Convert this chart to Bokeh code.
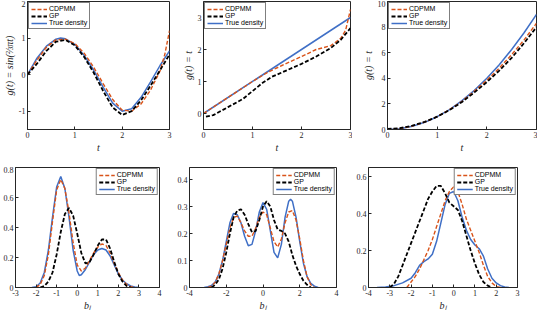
from bokeh.plotting import figure
from bokeh.layouts import column, row
from bokeh.models import FixedTicker, Range1d, Legend, LegendItem
from bokeh.embed import file_html
from bokeh.resources import INLINE

# ---------------- data ----------------
# Panel 1: g(t) = sin(2/3 pi t)
p1_t_true = [0, 0.2, 0.4, 0.6, 0.7, 0.8, 1.0, 1.2, 1.4, 1.6, 1.8, 2.0, 2.2, 2.4, 2.6, 2.8, 3.0]
p1_true = [0.0, 0.45, 0.78, 0.97, 1.0, 0.98, 0.83, 0.52, 0.12, -0.35, -0.78, -1.0, -0.93, -0.62, -0.2, 0.25, 0.65]
p1_t_cd = [0, 0.2, 0.4, 0.6, 0.8, 1.0, 1.2, 1.4, 1.6, 1.8, 2.0, 2.2, 2.4, 2.6, 2.8, 2.9, 3.0]
p1_cd = [0.0, 0.4, 0.75, 0.95, 0.97, 0.85, 0.58, 0.2, -0.25, -0.68, -0.97, -1.0, -0.8, -0.42, 0.1, 0.55, 1.2]
p1_t_gp = [0, 0.2, 0.4, 0.6, 0.8, 1.0, 1.2, 1.4, 1.6, 1.8, 2.0, 2.2, 2.4, 2.6, 2.8, 3.0]
p1_gp = [0.0, 0.3, 0.65, 0.9, 0.95, 0.8, 0.48, 0.05, -0.45, -0.9, -1.1, -1.0, -0.7, -0.3, 0.12, 0.55]

# Panel 2: g(t) = t
p2_t_true = [0, 3]
p2_true = [0, 3]
p2_t_cd = [0, 0.5, 1.0, 1.3, 1.6, 2.0, 2.3, 2.6, 2.8, 2.9, 3.0]
p2_cd = [0.0, 0.5, 1.0, 1.28, 1.5, 1.78, 2.0, 2.12, 2.35, 2.6, 3.25]
p2_t_gp = [0.05, 0.2, 0.5, 0.8, 1.0, 1.2, 1.4, 1.7, 2.0, 2.3, 2.6, 2.8, 3.0]
p2_gp = [-0.1, -0.05, 0.2, 0.45, 0.7, 0.95, 1.15, 1.35, 1.55, 1.78, 2.05, 2.3, 2.67]

# Panel 3
p3_t = [0, 0.25, 0.5, 0.75, 1.0, 1.25, 1.5, 1.75, 2.0, 2.25, 2.5, 2.75, 3.0]
p3_true = [0, 0.06, 0.25, 0.56, 1.0, 1.56, 2.25, 3.06, 4.0, 5.06, 6.25, 7.56, 9.0]
p3_cd = [0, 0.07, 0.27, 0.58, 1.0, 1.55, 2.2, 3.0, 3.85, 4.8, 5.85, 7.0, 8.3]
p3_gp = [0.05, 0.1, 0.3, 0.6, 1.0, 1.52, 2.15, 2.9, 3.7, 4.6, 5.6, 6.75, 8.0]

# Panel 4: densities of b_l
p4_b_true = [-2.2, -2.0, -1.8, -1.6, -1.4, -1.2, -1.0, -0.8, -0.6, -0.4, -0.2, 0.0, 0.1, 0.2, 0.4, 0.6,
             0.8, 1.0, 1.2, 1.4, 1.6, 1.8, 2.0, 2.2, 2.4, 2.6, 2.8, 3.0]
p4_true = [0, 0.005, 0.03, 0.1, 0.25, 0.47, 0.67, 0.74, 0.66, 0.47, 0.25, 0.11, 0.08, 0.085, 0.12, 0.17,
           0.22, 0.25, 0.26, 0.25, 0.21, 0.15, 0.09, 0.05, 0.025, 0.01, 0.004, 0]
p4_b_cd = [-2.0, -1.8, -1.6, -1.4, -1.2, -1.0, -0.8, -0.6, -0.4, -0.2, 0.0, 0.2, 0.4, 0.6, 0.8, 1.0,
           1.2, 1.4, 1.6, 1.8, 2.0, 2.2, 2.4, 2.6, 2.8]
p4_cd = [0, 0.02, 0.08, 0.22, 0.44, 0.65, 0.72, 0.66, 0.5, 0.3, 0.15, 0.11, 0.13, 0.18, 0.23, 0.27,
         0.29, 0.28, 0.23, 0.16, 0.1, 0.05, 0.02, 0.005, 0]
p4_b_gp = [-1.8, -1.6, -1.4, -1.2, -1.0, -0.8, -0.6, -0.4, -0.2, 0.0, 0.2, 0.4, 0.6, 0.8, 1.0, 1.2,
           1.4, 1.6, 1.8, 2.0, 2.2, 2.4, 2.6]
p4_gp = [0, 0.01, 0.04, 0.1, 0.22, 0.37, 0.49, 0.53, 0.48, 0.36, 0.23, 0.16, 0.17, 0.22, 0.28, 0.32,
         0.32, 0.26, 0.17, 0.09, 0.04, 0.01, 0]

# Panel 5
p5_b_true = [-3.2, -3.0, -2.8, -2.6, -2.4, -2.2, -2.0, -1.8, -1.6, -1.4, -1.2, -1.0, -0.8, -0.6, -0.4,
             -0.2, 0.0, 0.2, 0.4, 0.6, 0.8, 1.0, 1.2, 1.4, 1.5, 1.6, 1.8, 2.0, 2.2, 2.4, 2.6, 2.8, 3.0]
p5_true = [0, 0.003, 0.008, 0.02, 0.05, 0.1, 0.17, 0.24, 0.275, 0.27, 0.24, 0.19, 0.155, 0.16, 0.21,
           0.28, 0.315, 0.29, 0.21, 0.13, 0.11, 0.16, 0.26, 0.32, 0.327, 0.32, 0.26, 0.17, 0.09, 0.04,
           0.015, 0.005, 0]
p5_b_cd = [-3.0, -2.8, -2.6, -2.4, -2.2, -2.0, -1.8, -1.6, -1.4, -1.2, -1.0, -0.8, -0.6, -0.4, -0.2,
           0.0, 0.2, 0.4, 0.6, 0.8, 1.0, 1.2, 1.4, 1.6, 1.8, 2.0, 2.2, 2.4, 2.6, 2.8]
p5_cd = [0, 0.005, 0.02, 0.05, 0.1, 0.16, 0.22, 0.26, 0.265, 0.24, 0.21, 0.19, 0.19, 0.22, 0.26,
         0.28, 0.27, 0.22, 0.17, 0.15, 0.18, 0.24, 0.28, 0.285, 0.25, 0.18, 0.1, 0.04, 0.01, 0]
p5_b_gp = [-2.8, -2.6, -2.4, -2.2, -2.0, -1.8, -1.6, -1.4, -1.2, -1.0, -0.8, -0.6, -0.4, -0.2, 0.0,
           0.2, 0.4, 0.6, 0.8, 1.0, 1.2, 1.4, 1.6, 1.8, 2.0, 2.2, 2.4, 2.6]
p5_gp = [0, 0.01, 0.03, 0.07, 0.13, 0.2, 0.26, 0.285, 0.29, 0.27, 0.235, 0.205, 0.21, 0.25, 0.3,
         0.32, 0.3, 0.25, 0.215, 0.21, 0.2, 0.17, 0.12, 0.08, 0.05, 0.025, 0.01, 0]

# Panel 6
p6_b_true = [-3.6, -3.2, -2.8, -2.4, -2.0, -1.8, -1.6, -1.4, -1.2, -1.0, -0.8, -0.6, -0.4, -0.2, 0.0,
             0.2, 0.4, 0.6, 0.8, 1.0, 1.2, 1.4, 1.6, 1.8, 2.0, 2.2, 2.4, 2.6]
p6_true = [0, 0.003, 0.01, 0.025, 0.05, 0.08, 0.12, 0.14, 0.155, 0.18, 0.25, 0.35, 0.45, 0.51, 0.52,
           0.47, 0.38, 0.31, 0.26, 0.23, 0.21, 0.17, 0.1, 0.05, 0.025, 0.01, 0.003, 0]
p6_b_cd = [-2.2, -2.0, -1.8, -1.6, -1.4, -1.2, -1.0, -0.8, -0.6, -0.4, -0.2, 0.0, 0.2, 0.4, 0.6, 0.8,
           1.0, 1.2, 1.4, 1.6, 1.8, 2.0, 2.2]
p6_cd = [0, 0.03, 0.06, 0.1, 0.15, 0.2, 0.26, 0.33, 0.4, 0.47, 0.52, 0.545, 0.52, 0.45, 0.37, 0.31,
         0.25, 0.19, 0.12, 0.06, 0.025, 0.005, 0]
p6_b_gp = [-3.0, -2.8, -2.6, -2.4, -2.2, -2.0, -1.8, -1.6, -1.4, -1.2, -1.0, -0.8, -0.6, -0.4, -0.2,
           0.0, 0.2, 0.4, 0.6, 0.8, 1.0, 1.2, 1.4, 1.6, 1.8]
p6_gp = [0, 0.02, 0.06, 0.12, 0.18, 0.24, 0.3, 0.36, 0.42, 0.48, 0.52, 0.55, 0.55, 0.51, 0.46, 0.44,
         0.42, 0.36, 0.28, 0.2, 0.13, 0.07, 0.03, 0.01, 0]

# ticks and labels
t_ticks = [0, 1, 2, 3]
t_labels = ["0", "1", "2", "3"]
p1_yticks = [-1, 0, 1, 2]
p1_ylabels = ["-1", "0", "1", "2"]
p2_yticks = [0, 1, 2, 3]
p2_ylabels = ["0", "1", "2", "3"]
p3_yticks = [0, 2, 4, 6, 8, 10]
p3_ylabels = ["0", "2", "4", "6", "8", "10"]
p4_xticks = [-3, -2, -1, 0, 1, 2, 3, 4]
p4_xlabels = ["-3", "-2", "-1", "0", "1", "2", "3", "4"]
p4_yticks = [0, 0.2, 0.4, 0.6, 0.8]
p4_ylabels = ["0", "0.2", "0.4", "0.6", "0.8"]
p5_xticks = [-4, -2, 0, 2, 4]
p5_xlabels = ["-4", "-2", "0", "2", "4"]
p5_yticks = [0, 0.1, 0.2, 0.3, 0.4]
p5_ylabels = ["0", "0.1", "0.2", "0.3", "0.4"]
p6_xticks = [-4, -3, -2, -1, 0, 1, 2, 3]
p6_xlabels = ["-4", "-3", "-2", "-1", "0", "1", "2", "3"]
p6_yticks = [0, 0.2, 0.4, 0.6]
p6_ylabels = ["0", "0.2", "0.4", "0.6"]

series_names = ["CDPMM", "GP", "True density"]

# ---------------- styling ----------------
AX = "#262626"
C_CD = "#D95319"
C_GP = "#000000"
C_TRUE = "#3F6FC6"
TICK_FONT = "Liberation Serif"


def style_axis(ax, ticks, labels):
    ax.ticker = FixedTicker(ticks=ticks)
    ax.major_label_overrides = dict(zip(ticks, labels))
    ax.major_tick_in = 3
    ax.major_tick_out = 0
    ax.minor_tick_line_color = None
    ax.axis_line_color = AX
    ax.major_tick_line_color = AX
    ax.major_label_text_font = TICK_FONT
    ax.major_label_text_font_size = "8px"
    ax.major_label_text_color = AX
    ax.major_label_standoff = 2
    ax.axis_label_text_font = TICK_FONT
    ax.axis_label_text_font_style = "italic"
    ax.axis_label_text_font_size = "10px"
    ax.axis_label_text_color = AX
    ax.axis_label_standoff = 1


def make_panel(width, height, borders, xr, yr, xt, xtl, yt, ytl, xlabel, ylabel, loc,
               xtrue, ytrue, xcd, ycd, xgp, ygp):
    bl, br, bt, bb = borders
    p = figure(width=width, height=height, x_range=Range1d(*xr), y_range=Range1d(*yr),
               output_backend="svg", toolbar_location=None,
               min_border_left=bl, min_border_right=br, min_border_top=bt, min_border_bottom=bb)
    p.xgrid.visible = False
    p.ygrid.visible = False
    p.outline_line_color = AX
    p.outline_line_width = 1
    p.background_fill_color = "white"
    p.border_fill_color = "white"
    style_axis(p.xaxis[0], xt, xtl)
    style_axis(p.yaxis[0], yt, ytl)
    p.xaxis[0].axis_label = xlabel
    if ylabel:
        p.yaxis[0].axis_label = ylabel

    r_true = p.line(xtrue, ytrue, line_color=C_TRUE, line_width=1.5)
    r_cd = p.line(xcd, ycd, line_color=C_CD, line_width=1.4, line_dash="4 2")
    r_gp = p.line(xgp, ygp, line_color=C_GP, line_width=1.8, line_dash="4 2")

    legend = Legend(items=[LegendItem(label=series_names[0], renderers=[r_cd]),
                           LegendItem(label=series_names[1], renderers=[r_gp]),
                           LegendItem(label=series_names[2], renderers=[r_true])],
                    location=loc)
    legend.label_text_font = "Liberation Sans"
    legend.label_text_font_size = "7px"
    legend.label_text_color = "black"
    legend.label_height = 6
    legend.glyph_height = 6
    legend.glyph_width = 16
    legend.label_standoff = 2
    legend.spacing = 0
    legend.padding = 2
    legend.margin = 1
    legend.border_line_color = "black"
    legend.border_line_width = 0.6
    legend.background_fill_alpha = 1
    p.add_layout(legend)
    return p


H1 = 166
H2 = 147
b1 = (1, 37)
b2 = (1, 25)

f1 = make_panel(172, H1, (24, 3) + b1, (0, 3), (-1.5, 2), t_ticks, t_labels, p1_yticks, p1_ylabels,
                "t", "g(t) = sin(⅔πt)", "top_left",
                p1_t_true, p1_true, p1_t_cd, p1_cd, p1_t_gp, p1_gp)
f2 = make_panel(180, H1, (31, 2) + b1, (0, 3), (-0.5, 3.5), t_ticks, t_labels, p2_yticks, p2_ylabels,
                "t", "g(t) = t", "top_left",
                p2_t_true, p2_true, p2_t_cd, p2_cd, p2_t_gp, p2_gp)
f3 = make_panel(185, H1, (35, 1) + b1, (0, 3), (0, 10), t_ticks, t_labels, p3_yticks, p3_ylabels,
                "t", "g(t) = t", "top_left",
                p3_t, p3_true, p3_t, p3_cd, p3_t, p3_gp)
f4 = make_panel(172, H2, (14, 13) + b2, (-3, 4), (0, 0.8), p4_xticks, p4_xlabels, p4_yticks, p4_ylabels,
                "bₗ", None, "top_right",
                p4_b_true, p4_true, p4_b_cd, p4_cd, p4_b_gp, p4_gp)
f5 = make_panel(180, H2, (17, 16) + b2, (-4, 4), (0, 0.445), p5_xticks, p5_xlabels, p5_yticks, p5_ylabels,
                "bₗ", None, "top_right",
                p5_b_true, p5_true, p5_b_cd, p5_cd, p5_b_gp, p5_gp)
f6 = make_panel(185, H2, (16, 20) + b2, (-4, 3), (0, 0.65), p6_xticks, p6_xlabels, p6_yticks, p6_ylabels,
                "bₗ", None, "top_right",
                p6_b_true, p6_true, p6_b_cd, p6_cd, p6_b_gp, p6_gp)

layout = column(row(f1, f2, f3, spacing=0), row(f4, f5, f6, spacing=0), spacing=0)

open("out.html", "w").write(file_html(layout, INLINE))
